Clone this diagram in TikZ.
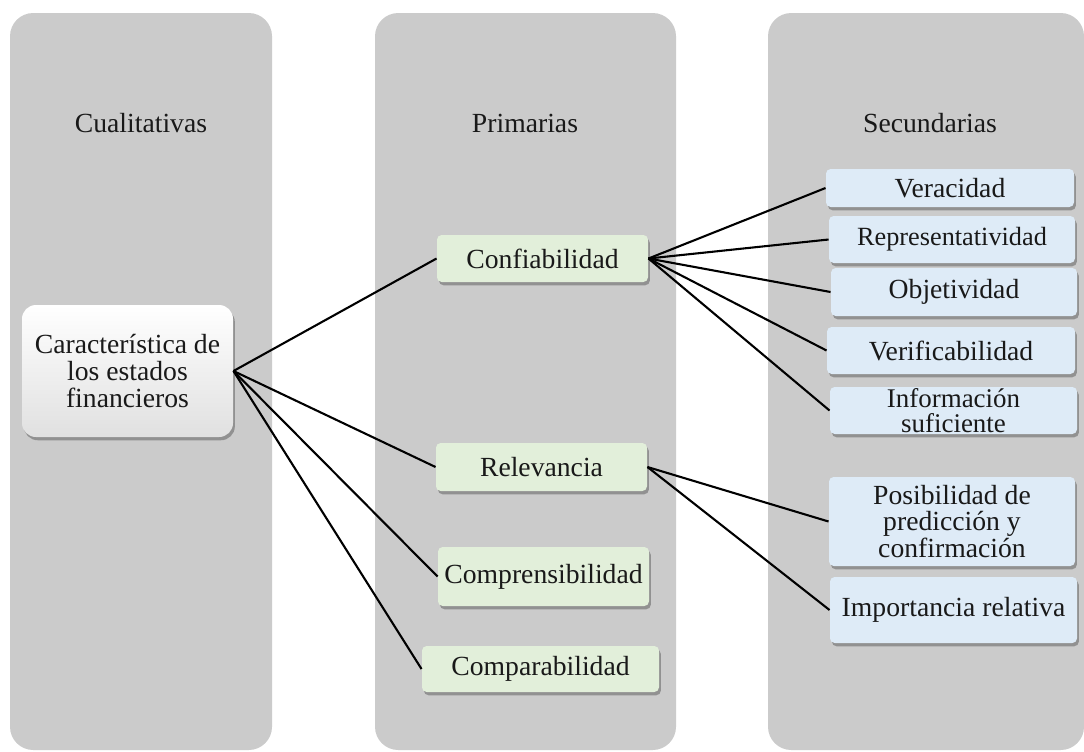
\documentclass[tikz,border=0pt]{standalone}
\usepackage{fontspec}
\setmainfont{Liberation Serif}
\usetikzlibrary{shadows}
\definecolor{colgray}{HTML}{CBCBCB}
\definecolor{primgreen}{HTML}{E2EFDA}
\definecolor{secblue}{HTML}{DEEBF7}

\begin{document}
\begin{tikzpicture}[x=0.43pt,y=-0.43pt,
	every node/.style={font=\fontsize{11.9}{11.6}\selectfont, align=center, text=black!90},
	column/.style={fill=colgray, rounded corners=10pt},
	sz/.style 2 args={minimum width=#1*0.43pt, minimum height=#2*0.43pt},
	box/.style={rounded corners=2pt, inner sep=1pt, drop shadow={shadow xshift=0.8pt, shadow yshift=-1.4pt, opacity=.45, fill=black!70}},
	prim/.style={box, fill=primgreen},
	sec/.style={box, fill=secblue},
	link/.style={line width=0.9pt}]
\useasboundingbox (0,0) rectangle (1084,751);
\fill[column] (10,13) rectangle (272,750);
\fill[column] (375,13) rectangle (676,750);
\fill[column] (768,13) rectangle (1084,750);
\node[anchor=base] (hcual) at (141,132) {Cualitativas};
\node[anchor=base] (hprim) at (525,132) {Primarias};
\node[anchor=base] (hsec) at (930,132) {Secundarias};
\node[box, rounded corners=6pt, top color=white, bottom color=black!12, sz={211}{132}] (main) at (127.5,371) {Característica de\\los estados\\financieros};
\node[prim, sz={211}{47}] (conf) at (542.5,258.5) {Confiabilidad};
\node[prim, sz={211}{48}] (rel) at (541.5,467) {Relevancia};
\node[prim, sz={211}{59}] (comp) at (543.5,576.5) {Comprensibilidad};
\node[prim, sz={237}{46}] (compar) at (540.5,669) {Comparabilidad};
\node[sec, sz={248}{38}] (ver) at (950,188) {Veracidad};
\node[sec, sz={246}{47}, font=\fontsize{11.3}{11}\selectfont] (rep) at (952,239.5) {Representatividad};
\node[sec, sz={246}{48}] (obj) at (954,292) {Objetividad};
\node[sec, sz={248}{47}] (verif) at (951,350.5) {Verificabilidad};
\node[sec, sz={247}{47}, inner sep=0pt, font=\fontsize{11.6}{11}\selectfont] (info) at (953.5,410.5) {Información\\suficiente};
\node[sec, sz={246}{89}] (pos) at (952,521.5) {Posibilidad de\\predicción y\\confirmación};
\node[sec, sz={247}{66}] (imp) at (953.5,610) {Importancia relativa};
\foreach \n in {conf,rel,comp,compar}
	\draw[link] (main.east) -- (\n.west);
\foreach \n in {ver,rep,obj,verif,info}
	\draw[link] (conf.east) -- (\n.west);
\foreach \n in {pos,imp}
	\draw[link] (rel.east) -- (\n.west);
\end{tikzpicture}
\end{document}
